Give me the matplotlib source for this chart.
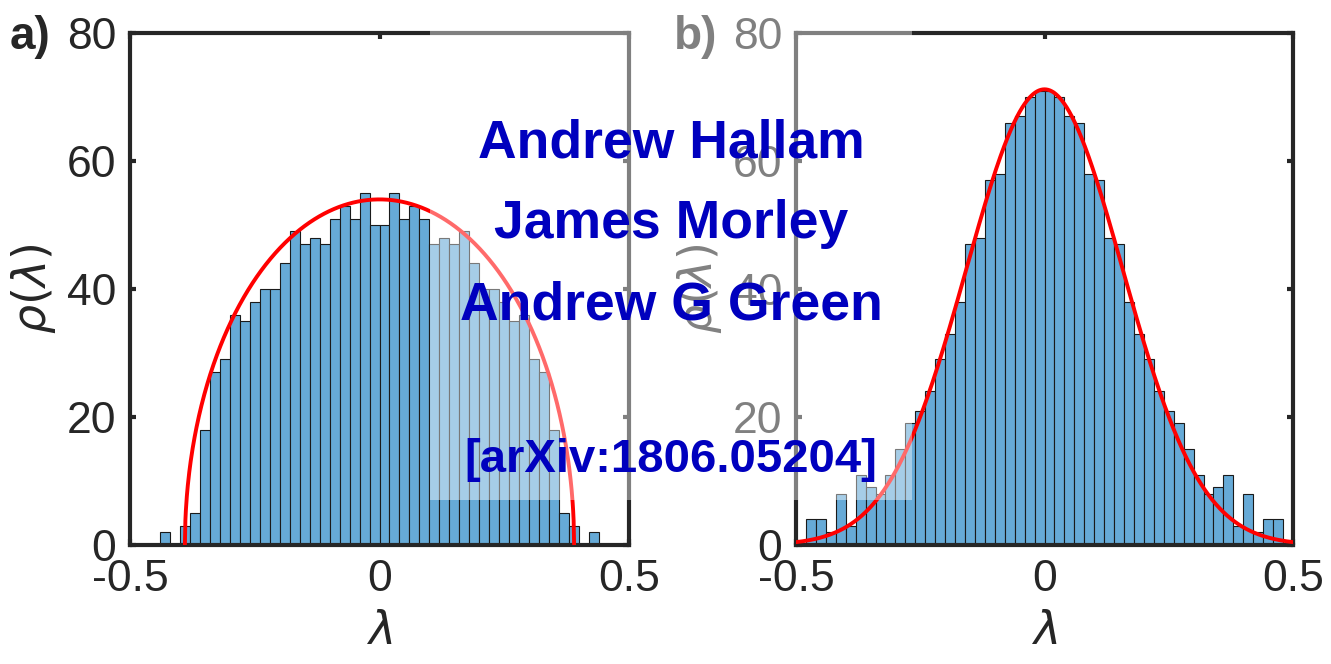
import numpy as np
import matplotlib
matplotlib.use("Agg")
import matplotlib.pyplot as plt
import matplotlib.patches as patches

plt.rcParams['font.family'] = ['Liberation Sans', 'DejaVu Sans']
plt.rcParams['mathtext.fontset'] = 'dejavusans'

# panel a: histogram counts, bins of width 0.02 from -0.44 to 0.44
a_bin_lo, a_bin_hi, bin_w = -0.44, 0.44, 0.02
a_counts = [2, 0, 3, 5, 18, 27, 29, 36, 35, 38, 40, 40, 44, 49, 47, 48, 47, 51, 53, 51, 55, 50,
            50, 55, 51, 53, 51, 47, 48, 47, 49, 44, 40, 40, 38, 35, 36, 29, 27, 18, 5, 3, 0, 2]
# semicircle fit
a_radius, a_peak = 0.39, 54.0

# panel b: histogram counts, bins of width 0.02 from -0.5 to 0.5
b_bin_lo, b_bin_hi = -0.5, 0.5
b_counts = [0, 4, 4, 2, 8, 3, 11, 9, 8, 11, 15, 19, 21, 24, 29, 33, 38, 47, 48, 57, 58, 66, 67, 70, 71,
            71, 70, 67, 66, 58, 57, 48, 47, 38, 33, 29, 24, 21, 19, 15, 11, 8, 9, 11, 3, 8, 2, 4, 4, 0]
# gaussian fit
b_sigma, b_peak = 0.157, 71.2

xticks = [-0.5, 0, 0.5]
xtick_labels = ['-0.5', '0', '0.5']
yticks = [0, 20, 40, 60, 80]
authors = ['Andrew Hallam', 'James Morley', 'Andrew G Green']
arxiv_ref = '[arXiv:1806.05204]'

W, H = 1331, 664
dark = '#262626'
bar_face = '#66AAD7'

fig = plt.figure(figsize=(W / 100, H / 100), dpi=100)
ax_a = fig.add_axes([130 / W, 1 - 545 / H, 499 / W, 512 / H])
ax_b = fig.add_axes([796 / W, 1 - 545 / H, 497 / W, 512 / H])


def style(ax):
    ax.set_xlim(-0.5, 0.5)
    ax.set_ylim(0, 80)
    ax.set_xticks(xticks)
    ax.set_xticklabels(xtick_labels)
    ax.set_yticks(yticks)
    ax.tick_params(direction='in', top=True, right=True, length=4, width=3,
                   labelsize=32, colors=dark, pad=10)
    for sp in ax.spines.values():
        sp.set_linewidth(3)
        sp.set_color(dark)
    ax.set_xlabel(r'$\lambda$', fontsize=33, color=dark, labelpad=7)
    ax.set_ylabel(r'$\rho(\lambda)$', fontsize=33, color=dark)
    ax.yaxis.set_label_coords(-0.145, 0.5)


def hist(ax, lo, hi, counts):
    edges = np.linspace(lo, hi, len(counts) + 1)
    ax.bar(edges[:-1], counts, width=bin_w, align='edge', color=bar_face,
           edgecolor='#1a1a1a', linewidth=0.8, zorder=2)


# panel a
hist(ax_a, a_bin_lo, a_bin_hi, a_counts)
lam = np.linspace(-a_radius, a_radius, 801)
ax_a.plot(lam, a_peak * np.sqrt(np.clip(1 - (lam / a_radius) ** 2, 0, None)),
          color='red', lw=2.8, zorder=3)
style(ax_a)

# panel b
hist(ax_b, b_bin_lo, b_bin_hi, b_counts)
lam = np.linspace(-0.5, 0.5, 801)
ax_b.plot(lam, b_peak * np.exp(-lam ** 2 / (2 * b_sigma ** 2)), color='red', lw=2.8, zorder=3)
style(ax_b)

fig.text(10 / W, 1 - 37 / H, 'a)', fontsize=33, fontweight='bold', color=dark, va='center', zorder=1)
fig.text(674 / W, 1 - 37 / H, 'b)', fontsize=33, fontweight='bold', color=dark, va='center', zorder=1)

# translucent white box over the middle
fig.add_artist(patches.Rectangle((430 / W, 1 - 500 / H), (912 - 430) / W, 500 / H,
                                 transform=fig.transFigure, facecolor='white',
                                 edgecolor='none', alpha=0.42, zorder=5))

for name, yb in zip(authors, [158, 238, 319]):
    fig.text(671 / W, 1 - yb / H, name, fontsize=38.5, fontweight='bold',
             color='#0000BE', ha='center', va='baseline', zorder=6)
fig.text(671 / W, 1 - 472 / H, arxiv_ref, fontsize=34, fontweight='bold',
         color='#0000BE', ha='center', va='baseline', zorder=6)

fig.savefig('out.png', dpi=100)
